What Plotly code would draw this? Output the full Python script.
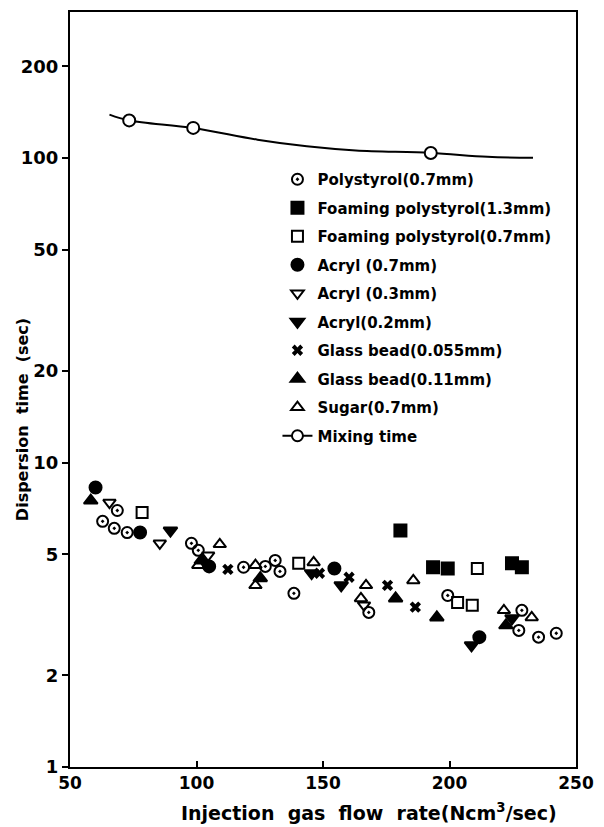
import plotly.graph_objects as go

# ---- data ----
poly_x = [62.9, 67.5, 68.7, 72.6, 98.0, 100.7, 118.6, 127.2, 131.1, 133.0, 138.5, 168.1, 199.3, 228.6, 227.4, 235.2, 242.2]
poly_y = [6.41, 6.08, 6.96, 5.89, 5.43, 5.15, 4.53, 4.56, 4.77, 4.39, 3.72, 3.22, 3.66, 3.27, 2.81, 2.67, 2.75]

foam13_x = [180.6, 193.5, 199.3, 224.7, 228.6]
foam13_y = [5.98, 4.53, 4.49, 4.67, 4.53]

foam07_x = [78.5, 140.4, 203.2, 209.0, 211.0]
foam07_y = [6.86, 4.67, 3.47, 3.40, 4.49]

acr07_x = [60.1, 77.7, 105.0, 154.5, 211.8]
acr07_y = [8.28, 5.89, 4.56, 4.49, 2.67]

acr03_x = [65.6, 85.5, 104.6, 166.2]
acr03_y = [7.39, 5.43, 4.96, 3.40]

acr02_x = [89.7, 145.5, 157.2, 208.7, 224.7]
acr02_y = [5.98, 4.33, 3.95, 2.51, 3.08]

glass055_x = [112.4, 148.6, 160.3, 175.5, 186.5]
glass055_y = [4.46, 4.33, 4.20, 3.95, 3.35]

glass011_x = [58.2, 101.9, 125.2, 178.7, 195.0, 222.3]
glass011_y = [7.50, 4.77, 4.17, 3.58, 3.10, 2.92]

sugar_x = [100.7, 109.2, 123.3, 123.3, 146.3, 165.0, 167.0, 185.7, 221.5, 232.5]
sugar_y = [4.60, 5.39, 4.60, 3.95, 4.70, 3.58, 3.95, 4.10, 3.27, 3.10]

mix_x = [73.4, 98.7, 192.6]
mix_y = [133.0, 125.7, 104.0]

mixcurve_x = [65.6, 73.4, 98.7, 124.1, 143.6, 163.0, 192.6, 215.0, 233.0]
mixcurve_y = [139.0, 133.0, 125.7, 115.0, 109.4, 106.0, 104.0, 101.0, 100.2]

y_ticks = [1, 2, 5, 10, 20, 50, 100, 200]
x_ticks = [50, 100, 150, 200, 250]

# ---- figure ----
fig = go.Figure()
ML = dict(color="black", width=2)

series = [
    ("Polystyrol(0.7mm)", poly_x, poly_y, "circle-open-dot", 11),
    ("Foaming polystyrol(1.3mm)", foam13_x, foam13_y, "square", 12),
    ("Foaming polystyrol(0.7mm)", foam07_x, foam07_y, "square-open", 11),
    ("Acryl (0.7mm)", acr07_x, acr07_y, "circle", 12),
    ("Acryl (0.3mm)", acr03_x, acr03_y, "triangle-down-open", 11),
    ("Acryl(0.2mm)", acr02_x, acr02_y, "triangle-down", 12),
    ("Glass bead(0.055mm)", glass055_x, glass055_y, "x", 10),
    ("Glass bead(0.11mm)", glass011_x, glass011_y, "triangle-up", 12),
    ("Sugar(0.7mm)", sugar_x, sugar_y, "triangle-up-open", 11),
]
for i, (name, xs, ys, sym, sz) in enumerate(series):
    fig.add_trace(go.Scatter(
        x=xs, y=ys, mode="markers", name=name, legendgroup=f"g{i}",
        marker=dict(symbol=sym, size=sz, color="black",
                    line=dict(color="black", width=0 if sym == "x" else 2)),
    ))

fig.add_trace(go.Scatter(
    x=mixcurve_x, y=mixcurve_y, mode="lines", line=dict(color="black", width=2, shape="spline"),
    showlegend=False, hoverinfo="skip"))
fig.add_trace(go.Scatter(
    x=mix_x, y=mix_y, mode="markers", showlegend=False,
    marker=dict(symbol="circle", size=12, color="white", line=ML)))
fig.add_trace(go.Scatter(
    x=[None], y=[None], mode="lines+markers", name="Mixing time", legendgroup="g9",
    line=dict(color="black", width=2),
    marker=dict(symbol="circle", size=11, color="white", line=ML)))

FONT = "DejaVu Sans"
NB = "\u00a0"
fig.update_layout(
    width=604, height=827,
    margin=dict(l=70, r=21, t=10, b=60),
    paper_bgcolor="white", plot_bgcolor="white",
    font=dict(family=FONT, color="black"),
    legend=dict(x=0.41, y=0.80, xanchor="left", yanchor="top",
                bgcolor="rgba(0,0,0,0)", tracegroupgap=6,
                font=dict(family=FONT, size=15, color="black", weight="bold")),
    xaxis=dict(range=[50, 250], tickvals=x_ticks, ticktext=[str(v) for v in x_ticks],
               ticks="inside", ticklen=6, tickwidth=2, tickcolor="black",
               showline=True, linewidth=2, linecolor="black", mirror=True,
               showgrid=False, zeroline=False,
               tickfont=dict(family=FONT, size=17, weight="bold")),
    yaxis=dict(type="log", range=[0, 2.48], tickvals=y_ticks, ticktext=[str(v) for v in y_ticks],
               ticks="outside", ticklen=6, tickwidth=2, tickcolor="black",
               showline=True, linewidth=2, linecolor="black", mirror=True,
               showgrid=False, zeroline=False,
               tickfont=dict(family=FONT, size=18, weight="bold")),
    annotations=[
        dict(text=f"Injection{NB}{NB}gas{NB}{NB}flow{NB}{NB}rate(Ncm<sup>3</sup>/sec)",
             xref="paper", yref="paper", x=0.59, y=-0.059, xanchor="center", yanchor="middle",
             showarrow=False, font=dict(family=FONT, size=19, weight="bold")),
        dict(text=f"Dispersion{NB}{NB}time{NB}{NB}(sec)",
             xref="paper", yref="paper", x=-0.094, y=0.46, xanchor="center", yanchor="middle",
             textangle=-90, showarrow=False, font=dict(family=FONT, size=16, weight="bold")),
    ],
)

fig.write_html("out.html")
